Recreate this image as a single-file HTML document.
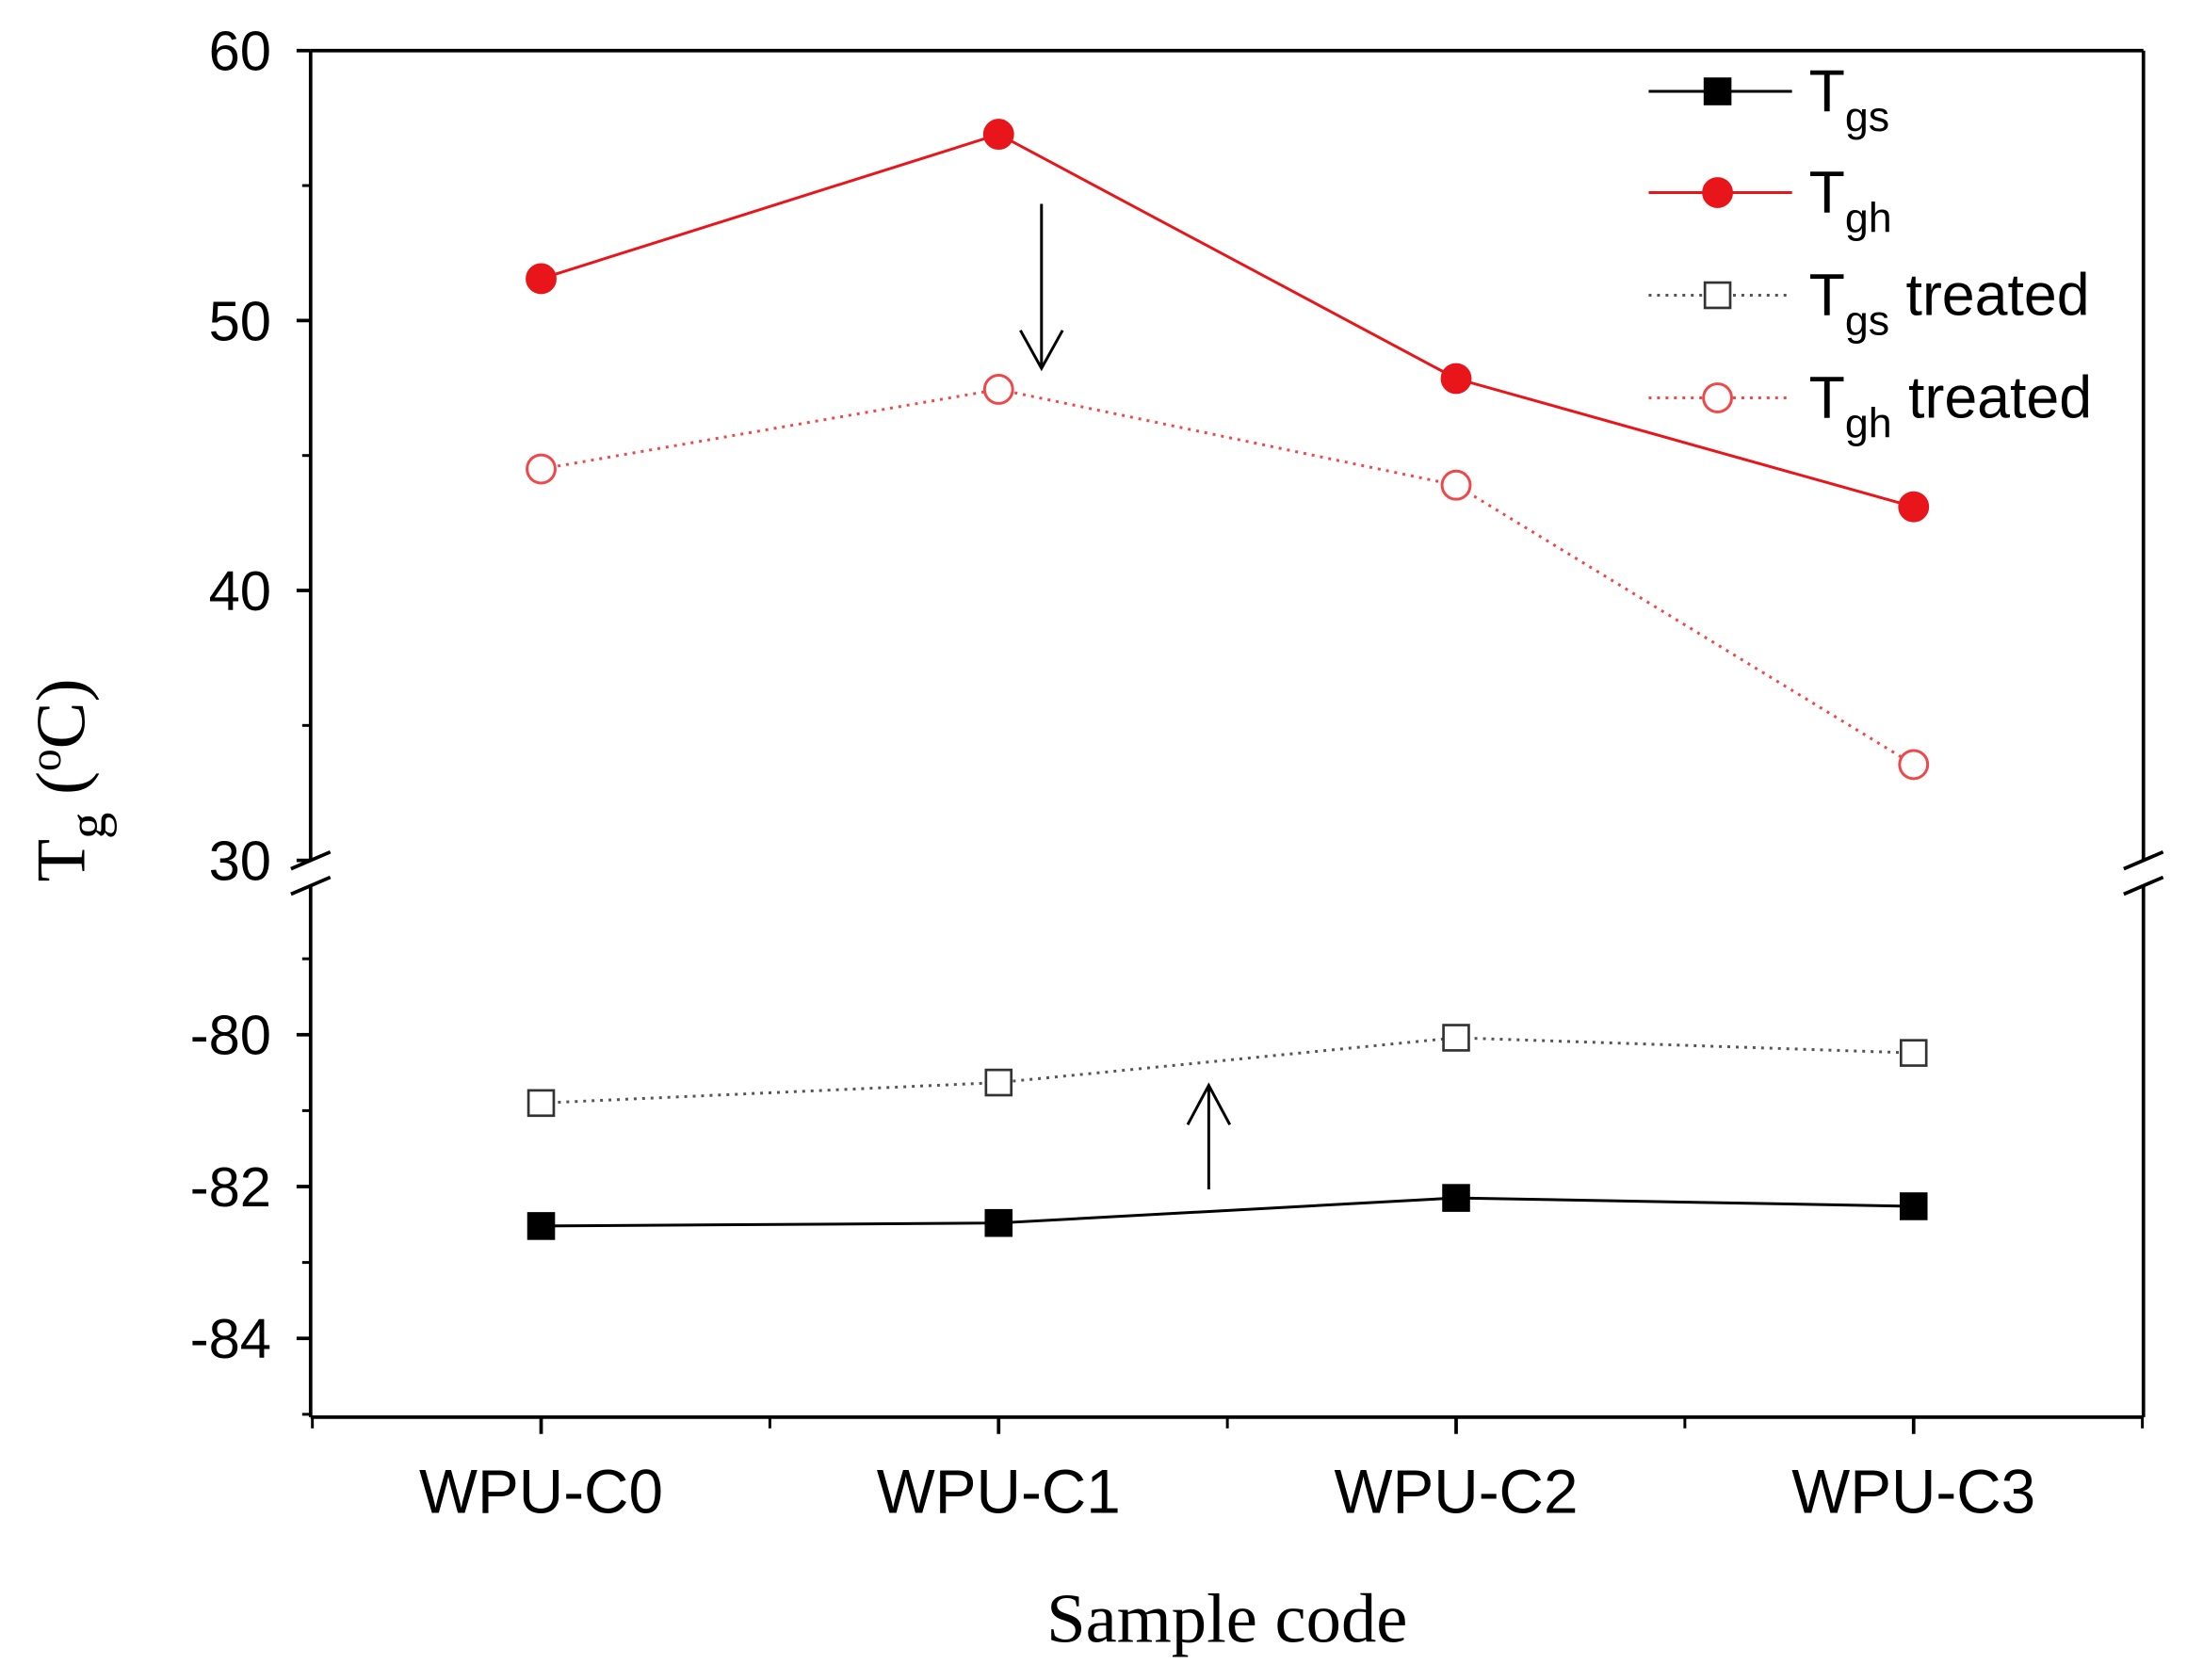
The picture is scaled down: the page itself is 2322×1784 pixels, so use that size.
<!DOCTYPE html>
<html><head><meta charset="utf-8"><style>html,body{margin:0;padding:0;background:#fff}svg{display:block}</style></head>
<body>
<svg id="chart" width="2322" height="1784" viewBox="0 0 1556 1195" preserveAspectRatio="none" xmlns="http://www.w3.org/2000/svg" font-family="Liberation Sans, Arial, sans-serif">
<rect width="1556" height="1195" fill="#fff"/>
<g id="axes"></g>
<g id="series"></g>
<g id="legend"></g>
<text x="873" y="1168" font-family="Liberation Serif, serif" font-size="50" text-anchor="middle">Sample code</text>
<text transform="translate(60,555) rotate(-90)" font-family="Liberation Serif, serif" font-size="50" text-anchor="middle">T<tspan font-size="38" dy="15">g</tspan><tspan dy="-15"> (</tspan><tspan font-size="32" dy="-17">o</tspan><tspan dy="17">C)</tspan></text>
</svg>
<script>
const categories=["WPU-C0","WPU-C1","WPU-C2","WPU-C3"];
const tgs=[-82.52,-82.48,-82.15,-82.26];
const tgh=[51.55,56.9,47.85,43.1];
const tgsTreated=[-80.9,-80.63,-80.04,-80.24];
const tghTreated=[44.5,47.45,43.9,33.55];
const upperTicks=[60,50,40,30];
const lowerTicks=[-80,-82,-84];
const NS="http://www.w3.org/2000/svg";
const L=221,R=1525,T=36,B=1008;
function xs(i){return 385+i*325.5;}
function yUp(v){return 36+(60-v)*19.2;}
function yLo(v){return 736+(-80-v)*54;}
function mk(tag,attrs,parent){const e=document.createElementNS(NS,tag);for(const k in attrs)e.setAttribute(k,attrs[k]);parent.appendChild(e);return e;}
const ax=document.getElementById('axes');
let e;
e=mk('path',{d:`M${L},${T}H${R}M${L},${T}V612M${L},630V${B}M${R},${T}V612M${R},630V${B}M${L},${B}H${R}`,stroke:'#000','stroke-width':2.5,fill:'none'},ax);

[L,R].forEach(x=>{e=mk('path',{d:`M${x-14},${618}L${x+14},${606}M${x-14},${636}L${x+14},${624}`,stroke:'#000','stroke-width':2.5,fill:'none'},ax);
});
upperTicks.forEach(v=>{const y=yUp(v);mk('line',{x1:L,x2:L-10,y1:y,y2:y,stroke:'#000','stroke-width':2.5},ax);
e=mk('text',{x:L-28,y:y+14,'font-size':40,'text-anchor':'end'},ax);e.textContent=v;
});
[55,45,35].forEach(v=>{mk('line',{x1:L,x2:L-6,y1:yUp(v),y2:yUp(v),stroke:'#000','stroke-width':2},ax);});
lowerTicks.forEach(v=>{const y=yLo(v);mk('line',{x1:L,x2:L-10,y1:y,y2:y,stroke:'#000','stroke-width':2.5},ax);
e=mk('text',{x:L-28,y:y+14,'font-size':40,'text-anchor':'end'},ax);e.textContent=v;
});
[-79,-81,-83,-85].forEach(v=>{const y=yLo(v);if(y<=B)mk('line',{x1:L,x2:L-6,y1:y,y2:y,stroke:'#000','stroke-width':2},ax);});
categories.forEach((c,i)=>{const x=xs(i);mk('line',{x1:x,x2:x,y1:B,y2:B+12,stroke:'#000','stroke-width':2.5},ax);
e=mk('text',{x:x,y:B+68,'font-size':44,'text-anchor':'middle'},ax);e.textContent=c;
});
[-0.5,0.5,1.5,2.5,3.5].forEach(i=>{const x=xs(i);mk('line',{x1:x,x2:x,y1:B,y2:B+8,stroke:'#000','stroke-width':2},ax);});
const sr=document.getElementById('series');
function series(name,vals,yf,color,dash,marker,filled){
 const g=mk('g',{},sr);
 const pts=vals.map((v,i)=>xs(i)+','+yf(v)).join(' ');
 const a={points:pts,fill:'none',stroke:color,'stroke-width':2};if(dash)a['stroke-dasharray']='2,4';
 mk('polyline',a,g);
 vals.forEach((v,i)=>drawMarker(g,xs(i),yf(v),color,marker,filled));
}
function drawMarker(g,x,y,color,marker,filled){
 let m;
 if(marker==='c')m=mk('circle',{cx:x,cy:y,r:10,fill:filled?color:'#fff',stroke:color,'stroke-width':2},g);
 else m=mk('rect',{x:x-9,y:y-9,width:18,height:18,fill:filled?'#000':'#fff',stroke:filled?'#000':'#333','stroke-width':1.8},g);
 
}
series('series-tgh',tgh,yUp,'#e8161b',false,'c',true);
series('series-tgh-treated',tghTreated,yUp,'#f0474a',true,'c',false);
series('series-tgs-treated',tgsTreated,yLo,'#555',true,'s',false);
series('series-tgs',tgs,yLo,'#000',false,'s',true);
e=mk('path',{d:'M741,145V262M726,235L741,262L756,235',stroke:'#000','stroke-width':2,fill:'none'},sr);

e=mk('path',{d:'M860,846V772M845,800L860,772L875,800',stroke:'#000','stroke-width':2,fill:'none'},sr);

const lg=document.getElementById('legend');
const entries=[["gs","",'#000',false,'s',true,65],["gh","",'#e8161b',false,'c',true,137],["gs"," treated",'#555',true,'s',false,210],["gh"," treated",'#f0474a',true,'c',false,283]];
entries.forEach(en=>{const g=mk('g',{},lg);
 const a={x1:1173,x2:1275,y1:en[6],y2:en[6],stroke:en[2],'stroke-width':2};if(en[3])a['stroke-dasharray']='2,4';mk('line',a,g);
 drawMarker(g,1222,en[6],en[2],en[4],en[5]);
 const t=mk('text',{x:1287,y:en[6]+14,'font-size':42},g);
 t.innerHTML='T<tspan font-size="30" dy="14">'+en[0]+'</tspan><tspan dy="-14">'+en[1]+'</tspan>';});
</script>
</body></html>
